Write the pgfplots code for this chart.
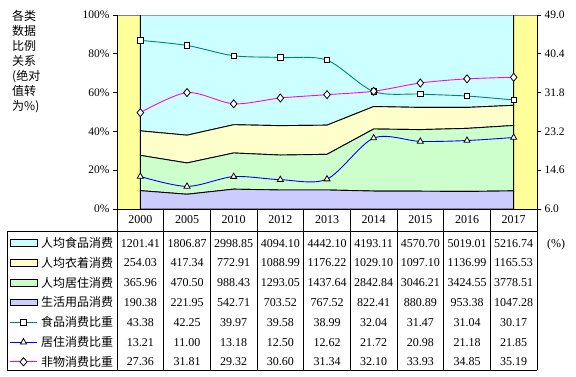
\documentclass[border=0pt]{standalone}
\usepackage{pgfplots}
\usepackage{pgfplotstable}
\pgfplotsset{compat=1.18}
\usepackage{fontspec}
\setmainfont{Liberation Serif}
\newfontfamily\cjk{Noto Sans CJK SC}
\definecolor{bgy}{HTML}{FFFF99}
\definecolor{cfood}{HTML}{CCFFFF}
\definecolor{ccloth}{HTML}{FFFFCC}
\definecolor{chouse}{HTML}{CCFFCC}
\definecolor{cgoods}{HTML}{CCCCFF}
\definecolor{lteal}{HTML}{008080}
\definecolor{lblue}{HTML}{0000FF}
\definecolor{lmag}{HTML}{FF00FF}
\pgfplotstableread{
x year food cloth house goods rfood rhouse rnon
0 2000 1201.41 254.03 365.96 190.38 43.38 13.21 27.36
1 2005 1806.87 417.34 470.50 221.95 42.25 11.00 31.81
2 2010 2998.85 772.91 988.43 542.71 39.97 13.18 29.32
3 2012 4094.10 1088.99 1293.05 703.52 39.58 12.50 30.60
4 2013 4442.10 1176.22 1437.64 767.52 38.99 12.62 31.34
5 2014 4193.11 1029.10 2842.84 822.41 32.04 21.72 32.10
6 2015 4570.70 1097.10 3046.21 880.89 31.47 20.98 33.93
7 2016 5019.01 1136.99 3424.55 953.38 31.04 21.18 34.85
8 2017 5216.74 1165.53 3778.51 1047.28 30.17 21.85 35.19
}\data
\newcommand{\tot}{(\thisrow{food}+\thisrow{cloth}+\thisrow{house}+\thisrow{goods})}
\begin{document}
\begin{tikzpicture}
\useasboundingbox (-117pt,-167pt) rectangle (459pt,209pt);
\begin{axis}[at={(0pt,0pt)}, anchor=south west, scale only axis,
  width=420pt, height=194pt, xmin=-0.5, xmax=8.5, ymin=0, ymax=100,
  axis background/.style={fill=bgy, draw=gray},
  axis line style={draw=none}, xtick=\empty,
  ytick={0,20,...,100}, ytick pos=left,
  /pgf/number format/assume math mode=true,
  yticklabel={\pgfmathprintnumber{\tick}\%},
  tick align=outside, major tick length=4pt,
  tick style={black, line width=0.8pt},
  yticklabel style={font=\fontsize{11.5}{12}\selectfont},
  stack plots=y, area style]
\addplot[fill=cgoods, draw=black, line width=0.9pt] table[x=x, y expr=100*\thisrow{goods}/\tot] {\data} \closedcycle;
\addplot[fill=chouse, draw=black, line width=0.9pt] table[x=x, y expr=100*\thisrow{house}/\tot] {\data} \closedcycle;
\addplot[fill=ccloth, draw=black, line width=0.9pt] table[x=x, y expr=100*\thisrow{cloth}/\tot] {\data} \closedcycle;
\addplot[fill=cfood, draw=black, line width=0.9pt] table[x=x, y expr=100*\thisrow{food}/\tot] {\data} \closedcycle;
\end{axis}
\begin{axis}[at={(0pt,0pt)}, anchor=south west, scale only axis,
  width=420pt, height=194pt, xmin=-0.5, xmax=8.5, ymin=6, ymax=49,
  axis line style={draw=none}, xtick=\empty,
  ytick={6,14.6,23.2,31.8,40.4,49}, ytick pos=right,
  /pgf/number format/assume math mode=true,
  yticklabel style={font=\fontsize{11.5}{12}\selectfont, /pgf/number format/.cd, fixed, fixed zerofill, precision=1},
  tick align=outside, major tick length=4pt,
  tick style={black, line width=0.8pt}]
\addplot[color=lteal, line width=0.9pt, smooth, mark=square*, mark size=2.7pt, mark options={fill=white, draw=black, line width=0.8pt, solid}] table[x=x, y=rfood] {\data};
\addplot[color=lblue, line width=0.9pt, smooth, mark=triangle*, mark size=3.5pt, mark options={fill=white, draw=black, line width=0.8pt, solid}] table[x=x, y=rhouse] {\data};
\addplot[color=lmag, line width=0.9pt, smooth, mark=diamond*, mark size=4pt, mark options={fill=white, draw=black, line width=0.8pt, solid, xscale=1.1}] table[x=x, y=rnon] {\data};
\end{axis}
% frame
\draw[line width=0.9pt] (0pt,194pt) -- (0pt,0pt) -- (420pt,0pt) -- (420pt,194pt);
% table grid
\draw[line width=0.9pt] (-110pt,-22pt) -- (420pt,-22pt);
\draw[line width=0.9pt] (-110pt,-161pt) -- (420pt,-161pt);
\draw[line width=0.9pt] (-110pt,-22pt) -- (-110pt,-161pt);
\foreach \k in {0,...,9} \draw[line width=0.9pt] (\k*46.667pt,0pt) -- (\k*46.667pt,-161pt);
% years
\foreach \i in {0,...,8} {
  \pgfplotstablegetelem{\i}{year}\of\data
  \node[anchor=base, inner sep=0pt, font=\fontsize{12}{14}\selectfont] at (\i*46.667pt+23.333pt,-14pt) {\pgfplotsretval};
}
% values
\foreach \col/\yy in {food/-38pt, cloth/-57.8pt, house/-77.6pt, goods/-97.4pt, rfood/-117.2pt, rhouse/-137pt, rnon/-156.8pt} {
  \foreach \i in {0,...,8} {
    \pgfplotstablegetelem{\i}{\col}\of\data
    \node[anchor=base, inner sep=0pt, font=\fontsize{12}{14}\selectfont] at (\i*46.667pt+23.333pt,\yy) {\pgfplotsretval};
  }
}
% legend column
\foreach \c/\lab/\yy in {cfood/人均食品消费/-34pt, ccloth/人均衣着消费/-53.8pt, chouse/人均居住消费/-73.6pt, cgoods/生活用品消费/-93.4pt} {
  \draw[fill=\c, line width=0.8pt] (-107pt,\yy-3.3pt) rectangle (-80pt,\yy+3.3pt);
  \node[anchor=base west, inner sep=0pt, font=\cjk\fontsize{12}{14}\selectfont] at (-76pt,\yy-4.4pt) {\lab};
}
\draw[lteal, line width=0.9pt] (-107pt,-113.2pt) -- (-80pt,-113.2pt);
\draw[black, fill=white, line width=0.8pt] (-96.2pt,-115.9pt) rectangle (-90.8pt,-110.5pt);
\node[anchor=base west, inner sep=0pt, font=\cjk\fontsize{12}{14}\selectfont] at (-76pt,-117.6pt) {食品消费比重};
\draw[lblue, line width=0.9pt] (-107pt,-133pt) -- (-80pt,-133pt);
\draw[black, fill=white, line width=0.8pt] (-93.5pt,-129.6pt) -- (-96.5pt,-134.9pt) -- (-90.5pt,-134.9pt) -- cycle;
\node[anchor=base west, inner sep=0pt, font=\cjk\fontsize{12}{14}\selectfont] at (-76pt,-137.4pt) {居住消费比重};
\draw[lmag, line width=0.9pt] (-107pt,-152.8pt) -- (-80pt,-152.8pt);
\draw[black, fill=white, line width=0.8pt] (-93.5pt,-148.8pt) -- (-89.9pt,-152.8pt) -- (-93.5pt,-156.8pt) -- (-97.1pt,-152.8pt) -- cycle;
\node[anchor=base west, inner sep=0pt, font=\cjk\fontsize{12}{14}\selectfont] at (-76pt,-157.2pt) {非物消费比重};
% (%)
\node[anchor=base west, inner sep=0pt, font=\fontsize{12}{14}\selectfont] at (430pt,-38pt) {(\%)};
% left title
\node[anchor=north west, align=left, inner sep=0pt, font=\cjk\fontsize{12}{15}\selectfont] at (-105pt,199pt) {各类\\数据\\比例\\关系\\(绝对\\值转\\为\%)};
\end{tikzpicture}
\end{document}
